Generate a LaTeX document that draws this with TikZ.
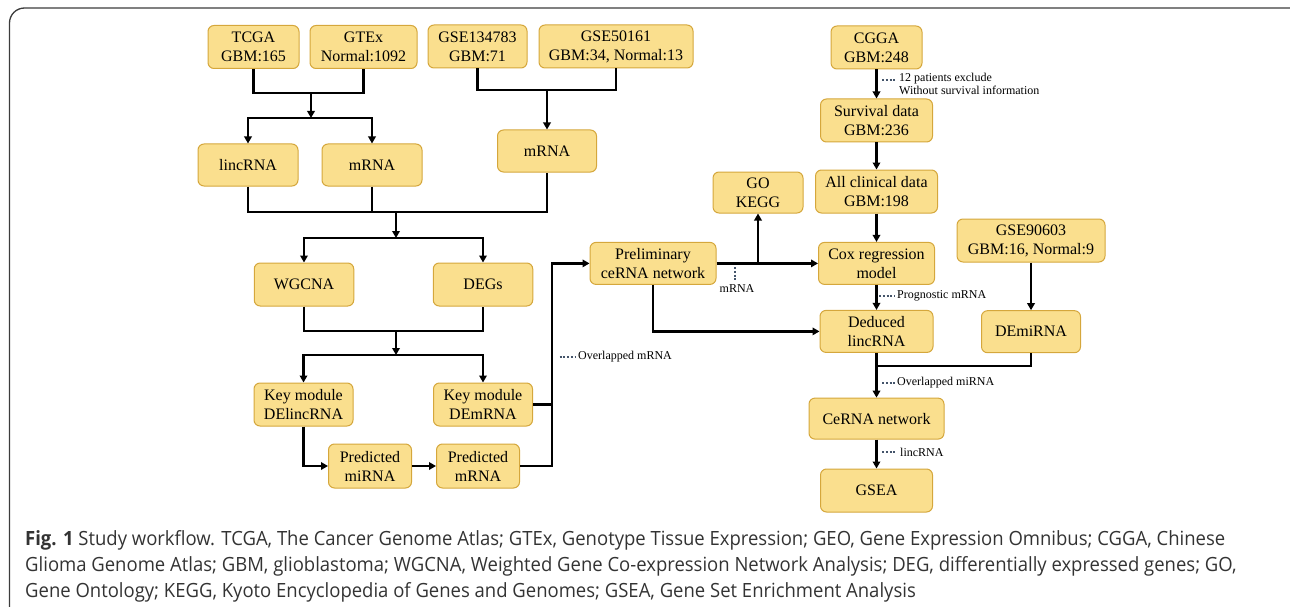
\documentclass[tikz,border=0pt]{standalone}
\usepackage{fontspec}
\usepackage{xcolor}
\setmainfont{Liberation Serif}
\newfontfamily\capfont[FakeStretch=0.943]{Open Sans}
\usetikzlibrary{arrows.meta}
\definecolor{StepFill}{HTML}{FADF8E}
\definecolor{StepLine}{HTML}{D5A73C}
\definecolor{NoteDots}{HTML}{44546A}
\definecolor{FrameGray}{HTML}{3C3C3C}
\definecolor{CapGray}{HTML}{333333}

\begin{document}
\begin{tikzpicture}[
  x=1pt, y=-1pt,
  every node/.style={font=\fontsize{16}{19}\selectfont},
  stepbox/.style={draw=StepLine, fill=StepFill, line width=1pt, rounded corners=6pt,
    align=center, inner sep=0pt, minimum height=43pt},
  link/.style={draw=black, line width=2.2pt},
  flow/.style={link, -{Triangle[length=7pt,width=7.5pt]}},
  dotmark/.style={draw=NoteDots, line width=2pt, dash pattern=on 2pt off 1.8pt},
  note/.style={font=\fontsize{12}{13}\selectfont, anchor=west, inner sep=0pt, align=left},
]
\useasboundingbox (0,0) rectangle (1290,607);
\clip (0,0) rectangle (1290,607);

% outer frame (runs off the page on the right and bottom)
\draw[FrameGray, line width=1.3pt, rounded corners=15pt] (9.5,8) rectangle (1305,650);

% ============ left: sources to WGCNA / DEGs ============
\node[stepbox, minimum width=91pt]  (tcga)   at (253.5,47)  {TCGA\\GBM:165};
\node[stepbox, minimum width=107pt] (gtex)   at (363.5,47)  {GTEx\\Normal:1092};
\node[stepbox, minimum width=99pt]  (gse134) at (477.5,46.5) {GSE134783\\GBM:71};
\node[stepbox, minimum width=154pt] (gse501) at (616,46.5)  {GSE50161\\GBM:34, Normal:13};

\node[stepbox, minimum width=100pt, minimum height=42pt] (lincA) at (248,165)   {lincRNA};
\node[stepbox, minimum width=100pt, minimum height=42pt] (mrnaA) at (372,165)   {mRNA};
\node[stepbox, minimum width=99pt,  minimum height=42pt] (mrnaB) at (547,151)   {mRNA};

\node[stepbox, minimum width=99.5pt] (wgcna) at (304,284.5) {WGCNA};
\node[stepbox, minimum width=99.5pt] (degs)  at (483,284.5) {DEGs};

\node[stepbox, minimum width=99pt] (keylinc) at (303.5,404.5) {Key module\\DElincRNA};
\node[stepbox, minimum width=99pt] (keymrna) at (483,404.5)   {Key module\\DEmRNA};
\node[stepbox, minimum width=83pt, minimum height=44pt] (predmi) at (370,466) {Predicted\\miRNA};
\node[stepbox, minimum width=83pt, minimum height=44pt] (predm)  at (478,466) {Predicted\\mRNA};

% merge TCGA + GTEx, split to lincRNA / mRNA
\coordinate (jA) at (311,93);
\coordinate (jAb) at (311,118);
\draw[link] (tcga.south) |- (jA) -| (gtex.south);
\draw[flow] (jA) -- (jAb);
\draw[flow] (jAb) -| (lincA.north);
\draw[flow] (jAb) -| (mrnaA.north);

% merge GEO sets
\coordinate (jB) at (547,90);
\draw[link] (gse134.south) |- (jB) -| (gse501.south);
\draw[flow] (jB) -- (mrnaB.north);

% merge RNA lists, split to WGCNA / DEGs
\coordinate (jC) at (396,212);
\coordinate (jCb) at (396,238);
\draw[link] (lincA.south) |- (jC) -| (mrnaB.south);
\draw[link] (mrnaA.south) -- (mrnaA.south |- jC);
\draw[flow] (jC) -- (jCb);
\draw[flow] (jCb) -| (wgcna.north);
\draw[flow] (jCb) -| (degs.north);

% merge WGCNA + DEGs, split to key modules
\coordinate (jD) at (396,331);
\coordinate (jDb) at (396,355);
\draw[link] (wgcna.south) |- (jD) -| (degs.south);
\draw[flow] (jD) -- (jDb);
\draw[flow] (jDb) -| (keylinc.north);
\draw[flow] (jDb) -| (keymrna.north);

% prediction chain
\draw[flow] (keylinc.south) |- (predmi.west);
\draw[flow] (predmi) -- (predm);

% ============ middle: preliminary network ============
\node[stepbox, minimum width=126pt, minimum height=42pt] (prelim) at (653,263.4) {Preliminary\\ceRNA network};
\node[stepbox, minimum width=90pt,  minimum height=41pt] (gokegg) at (758,192.5) {GO\\KEGG};

\coordinate (jE) at (552,466);
\draw[flow] (predm.east) -- (jE) |- (prelim.west);
\draw[link] (keymrna.east) -- (keymrna.east -| jE);
\draw[dotmark] (559.5,357) -- (576,357);
\node[note] (ovlmrna) at (578,357) {Overlapped mRNA};

% ============ right: clinical column ============
\node[stepbox, minimum width=91pt]  (cgga)    at (876.5,47.5)  {CGGA\\GBM:248};
\node[stepbox, minimum width=112pt] (surv)    at (876.5,120.5) {Survival data\\GBM:236};
\node[stepbox, minimum width=122pt] (allclin) at (876.5,191.5) {All clinical data\\GBM:198};
\node[stepbox, minimum width=116pt, minimum height=42pt] (cox)     at (876.5,263.4) {Cox regression\\model};
\node[stepbox, minimum width=113pt, minimum height=42pt] (deduced) at (876.5,331.4) {Deduced\\lincRNA};
\node[stepbox, minimum width=135pt, minimum height=41pt] (cerna)   at (876.5,418.6) {CeRNA network};
\node[stepbox, minimum width=112pt] (gsea)    at (876.5,490.5) {GSEA};

\node[stepbox, minimum width=148pt] (gse906) at (1031,240.5) {GSE90603\\GBM:16, Normal:9};
\node[stepbox, minimum width=99pt, minimum height=42pt] (demirna) at (1031,331.7) {DEmiRNA};

\draw[flow] (prelim.east) -- (cox.west);
\draw[flow] (prelim.east -| gokegg.south) -- (gokegg.south);
\draw[dotmark] (735,267) -- (735,282);
\node[note, anchor=north] (prelimmrna) at (737,284) {mRNA};
\draw[flow] (prelim.south) |- (deduced.west);

\draw[flow] (cgga) -- (surv);
\draw[dotmark] (882,80) -- (897,80);
\node[note] (exclude) at (899,84) {12 patients exclude\\Without survival information};
\draw[flow] (surv) -- (allclin);
\draw[flow] (allclin) -- (cox);
\draw[flow] (cox) -- (deduced);
\draw[dotmark] (879,296) -- (895,296);
\node[note] (progmrna) at (897,296) {Prognostic mRNA};

\draw[flow] (gse906) -- (demirna);
\coordinate (jF) at (876.5,366);
\draw[link] (demirna.south) |- (jF);
\draw[flow] (deduced) -- (cerna);
\draw[dotmark] (882,382.7) -- (895,382.7);
\node[note] (ovlmirna) at (897,382.7) {Overlapped miRNA};

\draw[flow] (cerna) -- (gsea);
\draw[dotmark] (882,452) -- (897,452);
\node[note] (gsealinc) at (900,452) {lincRNA};

% ============ caption ============
\begin{scope}[every node/.style={anchor=base west, inner sep=0pt, text=CapGray,
    font=\capfont\fontsize{19.6}{22}\selectfont}]
  \node (capA) at (25,545)   {\textbf{Fig. 1} Study workflow. TCGA, The Cancer Genome Atlas; GTEx, Genotype Tissue Expression; GEO, Gene Expression Omnibus; CGGA, Chinese};
  \node (capB) at (25,571.5) {Glioma Genome Atlas; GBM, glioblastoma; WGCNA, Weighted Gene Co-expression Network Analysis; DEG, differentially expressed genes; GO,};
  \node (capC) at (25,597)   {Gene Ontology; KEGG, Kyoto Encyclopedia of Genes and Genomes; GSEA, Gene Set Enrichment Analysis};
\end{scope}

\end{tikzpicture}
\end{document}
